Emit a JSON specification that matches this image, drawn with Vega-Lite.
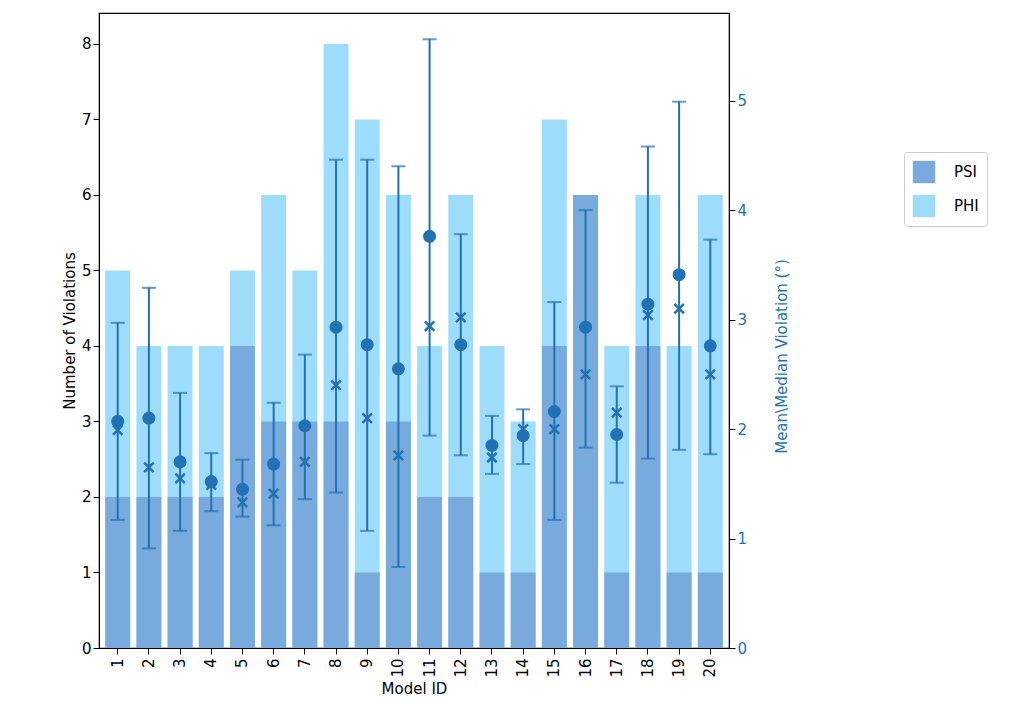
{
  "$schema": "https://vega.github.io/schema/vega-lite/v6.json",
  "width": 630,
  "height": 635,
  "padding": {"left": 62, "top": 13, "right": 5, "bottom": 5},
  "config": {
    "font": "DejaVu Sans",
    "view": {"stroke": "black", "strokeWidth": 1.2},
    "axis": {"grid": false, "labelFontSize": 15, "titleFontSize": 15, "titleFontWeight": "normal", "domainColor": "black", "tickColor": "black", "labelColor": "black", "titleColor": "black", "tickSize": 6}
  },
  "datasets": {
    "bars": [
      {"model": 1, "type": "PHI", "count": 5}, {"model": 2, "type": "PHI", "count": 4}, {"model": 3, "type": "PHI", "count": 4}, {"model": 4, "type": "PHI", "count": 4}, {"model": 5, "type": "PHI", "count": 5},
      {"model": 6, "type": "PHI", "count": 6}, {"model": 7, "type": "PHI", "count": 5}, {"model": 8, "type": "PHI", "count": 8}, {"model": 9, "type": "PHI", "count": 7}, {"model": 10, "type": "PHI", "count": 6},
      {"model": 11, "type": "PHI", "count": 4}, {"model": 12, "type": "PHI", "count": 6}, {"model": 13, "type": "PHI", "count": 4}, {"model": 14, "type": "PHI", "count": 3}, {"model": 15, "type": "PHI", "count": 7},
      {"model": 16, "type": "PHI", "count": 6}, {"model": 17, "type": "PHI", "count": 4}, {"model": 18, "type": "PHI", "count": 6}, {"model": 19, "type": "PHI", "count": 4}, {"model": 20, "type": "PHI", "count": 6},
      {"model": 1, "type": "PSI", "count": 2}, {"model": 2, "type": "PSI", "count": 2}, {"model": 3, "type": "PSI", "count": 2}, {"model": 4, "type": "PSI", "count": 2}, {"model": 5, "type": "PSI", "count": 4},
      {"model": 6, "type": "PSI", "count": 3}, {"model": 7, "type": "PSI", "count": 3}, {"model": 8, "type": "PSI", "count": 3}, {"model": 9, "type": "PSI", "count": 1}, {"model": 10, "type": "PSI", "count": 3},
      {"model": 11, "type": "PSI", "count": 2}, {"model": 12, "type": "PSI", "count": 2}, {"model": 13, "type": "PSI", "count": 1}, {"model": 14, "type": "PSI", "count": 1}, {"model": 15, "type": "PSI", "count": 4},
      {"model": 16, "type": "PSI", "count": 6}, {"model": 17, "type": "PSI", "count": 1}, {"model": 18, "type": "PSI", "count": 4}, {"model": 19, "type": "PSI", "count": 1}, {"model": 20, "type": "PSI", "count": 1}
    ],
    "stats": [
      {"model": 1, "mean": 2.07, "median": 1.99, "lo": 1.17, "hi": 2.97},
      {"model": 2, "mean": 2.10, "median": 1.65, "lo": 0.91, "hi": 3.29},
      {"model": 3, "mean": 1.70, "median": 1.55, "lo": 1.07, "hi": 2.33},
      {"model": 4, "mean": 1.52, "median": 1.49, "lo": 1.25, "hi": 1.78},
      {"model": 5, "mean": 1.45, "median": 1.33, "lo": 1.20, "hi": 1.72},
      {"model": 6, "mean": 1.68, "median": 1.41, "lo": 1.12, "hi": 2.24},
      {"model": 7, "mean": 2.03, "median": 1.70, "lo": 1.36, "hi": 2.68},
      {"model": 8, "mean": 2.93, "median": 2.40, "lo": 1.42, "hi": 4.46},
      {"model": 9, "mean": 2.77, "median": 2.10, "lo": 1.07, "hi": 4.46},
      {"model": 10, "mean": 2.55, "median": 1.76, "lo": 0.74, "hi": 4.40},
      {"model": 11, "mean": 3.76, "median": 2.94, "lo": 1.94, "hi": 5.56},
      {"model": 12, "mean": 2.77, "median": 3.02, "lo": 1.76, "hi": 3.78},
      {"model": 13, "mean": 1.85, "median": 1.74, "lo": 1.59, "hi": 2.12},
      {"model": 14, "mean": 1.94, "median": 2.00, "lo": 1.68, "hi": 2.18},
      {"model": 15, "mean": 2.16, "median": 2.00, "lo": 1.17, "hi": 3.16},
      {"model": 16, "mean": 2.93, "median": 2.50, "lo": 1.83, "hi": 4.00},
      {"model": 17, "mean": 1.95, "median": 2.15, "lo": 1.51, "hi": 2.39},
      {"model": 18, "mean": 3.14, "median": 3.04, "lo": 1.73, "hi": 4.58},
      {"model": 19, "mean": 3.41, "median": 3.10, "lo": 1.81, "hi": 4.99},
      {"model": 20, "mean": 2.76, "median": 2.50, "lo": 1.77, "hi": 3.73}
    ]
  },
  "encoding": {
    "x": {"field": "model", "type": "ordinal", "title": "Model ID", "scale": {"paddingInner": 0.2, "paddingOuter": 0.2}, "axis": {"labelAngle": -90, "labelPadding": 4}}
  },
  "layer": [
    {
      "data": {"name": "bars"},
      "mark": {"type": "bar", "opacity": 1},
      "encoding": {
        "y": {"field": "count", "type": "quantitative", "stack": null, "title": "Number of Violations", "scale": {"domain": [0, 8.41], "nice": false}, "axis": {"values": [0, 1, 2, 3, 4, 5, 6, 7, 8]}},
        "color": {"field": "type", "type": "nominal", "scale": {"domain": ["PSI", "PHI"], "range": ["#78aade", "#9edcfc"]},
          "legend": {"title": null, "orient": "none", "legendX": 805, "legendY": 139, "labelFontSize": 15, "symbolType": "square", "symbolSize": 500, "strokeColor": "#cccccc", "padding": 8, "cornerRadius": 3, "rowPadding": 10, "labelOffset": 18}}
      }
    },
    {
      "data": {"name": "stats"},
      "encoding": {
        "y": {"type": "quantitative", "scale": {"domain": [0, 5.8], "nice": false}}
      },
      "layer": [
        {"mark": {"type": "rule", "color": "#2171b5", "strokeWidth": 2}, "encoding": {"y": {"field": "lo", "type": "quantitative", "title": "Mean\\Median Violation (°)", "axis": {"orient": "right", "values": [0, 1, 2, 3, 4, 5], "format": "d", "labelColor": "#2171b5", "titleColor": "#2171b5", "tickColor": "black", "titleAngle": 270, "titleX": 52, "titleY": 343, "titleAlign": "center", "titleBaseline": "middle"}}, "y2": {"field": "hi"}}},
        {"mark": {"type": "tick", "color": "#2171b5", "thickness": 2, "size": 14}, "encoding": {"y": {"field": "lo", "type": "quantitative"}}},
        {"mark": {"type": "tick", "color": "#2171b5", "thickness": 2, "size": 14}, "encoding": {"y": {"field": "hi", "type": "quantitative"}}},
        {"mark": {"type": "circle", "color": "#2171b5", "opacity": 1, "size": 170}, "encoding": {"y": {"field": "mean", "type": "quantitative"}}},
        {"mark": {"type": "point", "shape": "M-1,-1L1,1M1,-1L-1,1", "color": "#2171b5", "filled": false, "strokeWidth": 2.5, "opacity": 1, "size": 90}, "encoding": {"y": {"field": "median", "type": "quantitative"}}}
      ]
    }
  ],
  "resolve": {"scale": {"y": "independent", "color": "independent"}}
}
